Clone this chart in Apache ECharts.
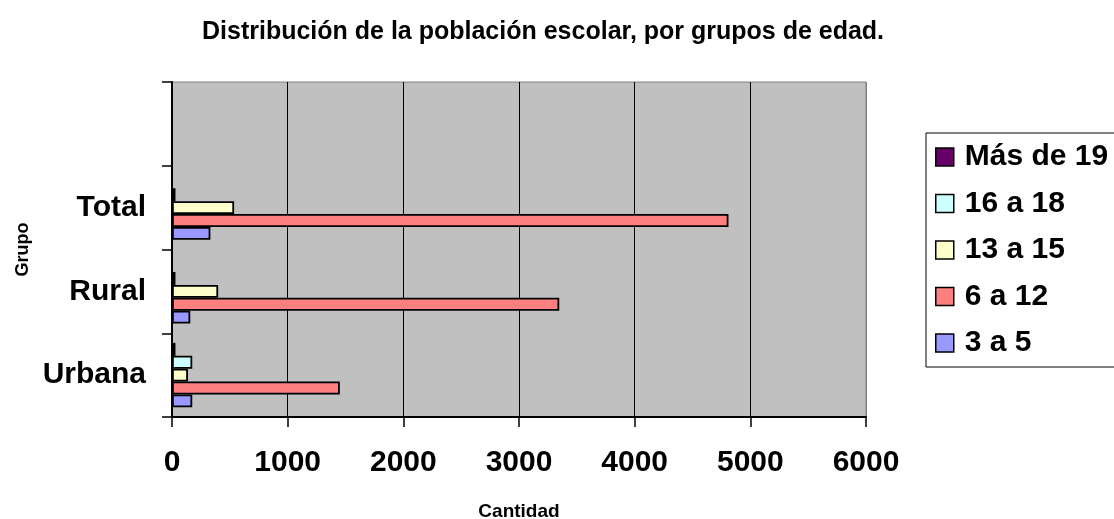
<!DOCTYPE html>
<html>
<head>
<meta charset="utf-8">
<script src="https://cdn.jsdelivr.net/npm/echarts@6/dist/echarts.min.js"></script>
<style>html,body{margin:0;padding:0;background:#fff;overflow:hidden;}#c{width:1114px;height:519px;}</style>
</head>
<body>
<div id="c"></div>
<script>
var categories = ['Urbana', 'Rural', 'Total', ''];
var seriesNames = ['Más de 19', '16 a 18', '13 a 15', '6 a 12', '3 a 5'];
var masDe19 = [30, null, null];
var de16a18 = [175, 30, 30];
var de13a15 = [138, 399, 537];
var de6a12 = [1451, 3348, 4811];
var de3a5 = [175, 158, 332];
var xTicks = [0, 1000, 2000, 3000, 4000, 5000, 6000];

var FONT = '"Liberation Sans", Arial, sans-serif';
var colors = ['#660066', '#CCFFFF', '#FFFFCC', '#FF8080', '#9999FF'];
var values = [masDe19, de16a18, de13a15, de6a12, de3a5];

var chart = echarts.init(document.getElementById('c'));
var series = seriesNames.map(function (n, i) {
  return {
    name: n,
    type: 'bar',
    data: values[i],
    barGap: '0%',
    barCategoryGap: '23%',
    itemStyle: { color: colors[i], borderColor: '#000', borderWidth: 1.8 },
    silent: true
  };
});

chart.setOption({
  animation: false,
  backgroundColor: '#fff',
  textStyle: { fontFamily: FONT },
  title: {
    text: 'Distribución de la población escolar, por grupos de edad.',
    left: 197,
    top: 15,
    textStyle: { fontFamily: FONT, fontSize: 25, fontWeight: 'bold', color: '#000' }
  },
  legend: {
    orient: 'vertical',
    left: 926,
    top: 133,
    data: seriesNames,
    icon: 'rect',
    itemWidth: 18,
    itemHeight: 18,
    itemGap: 16.5,
    padding: [9, 12, 9, 9],
    borderColor: '#000',
    borderWidth: 1,
    itemStyle: { borderColor: '#000', borderWidth: 1.5 },
    textStyle: { fontFamily: FONT, fontSize: 30, fontWeight: 'bold', color: '#000', padding: [0, 0, 0, 6] }
  },
  grid: {
    left: 172, right: 248, top: 82, bottom: 102,
    outerBoundsMode: 'none',
    containLabel: false,
    show: true,
    backgroundColor: '#C0C0C0',
    borderColor: '#808080',
    borderWidth: 1
  },
  xAxis: {
    type: 'value',
    min: xTicks[0],
    max: xTicks[xTicks.length - 1],
    interval: 1000,
    name: 'Cantidad',
    nameLocation: 'middle',
    nameGap: 85,
    nameTextStyle: { fontFamily: FONT, fontSize: 19, fontWeight: 'bold', color: '#000' },
    axisLine: { show: true, onZero: false, lineStyle: { color: '#000', width: 2 } },
    axisTick: { show: true, inside: false, length: 10, lineStyle: { color: '#000', width: 1.5 } },
    axisLabel: {
      margin: 31, fontFamily: FONT, fontSize: 30, fontWeight: 'bold', color: '#000',
      formatter: function (v) { return String(v); }
    },
    splitLine: { show: true, lineStyle: { color: ['#000', '#000', '#000', '#000', '#000', '#000', '#808080'], width: 1 } }
  },
  yAxis: {
    type: 'category',
    data: categories,
    boundaryGap: true,
    name: 'Grupo',
    nameLocation: 'middle',
    nameGap: 139,
    nameRotate: 90,
    nameTextStyle: { fontFamily: FONT, fontSize: 18, fontWeight: 'bold', color: '#000' },
    axisLine: { show: true, lineStyle: { color: '#000', width: 2 } },
    axisTick: { show: true, inside: false, length: 10, alignWithLabel: false, lineStyle: { color: '#000', width: 1.5 } },
    axisLabel: { margin: 26, interval: 0, fontFamily: FONT, fontSize: 30, fontWeight: 'bold', color: '#000' },
    splitLine: { show: false }
  },
  series: series
});
</script>
</body>
</html>
